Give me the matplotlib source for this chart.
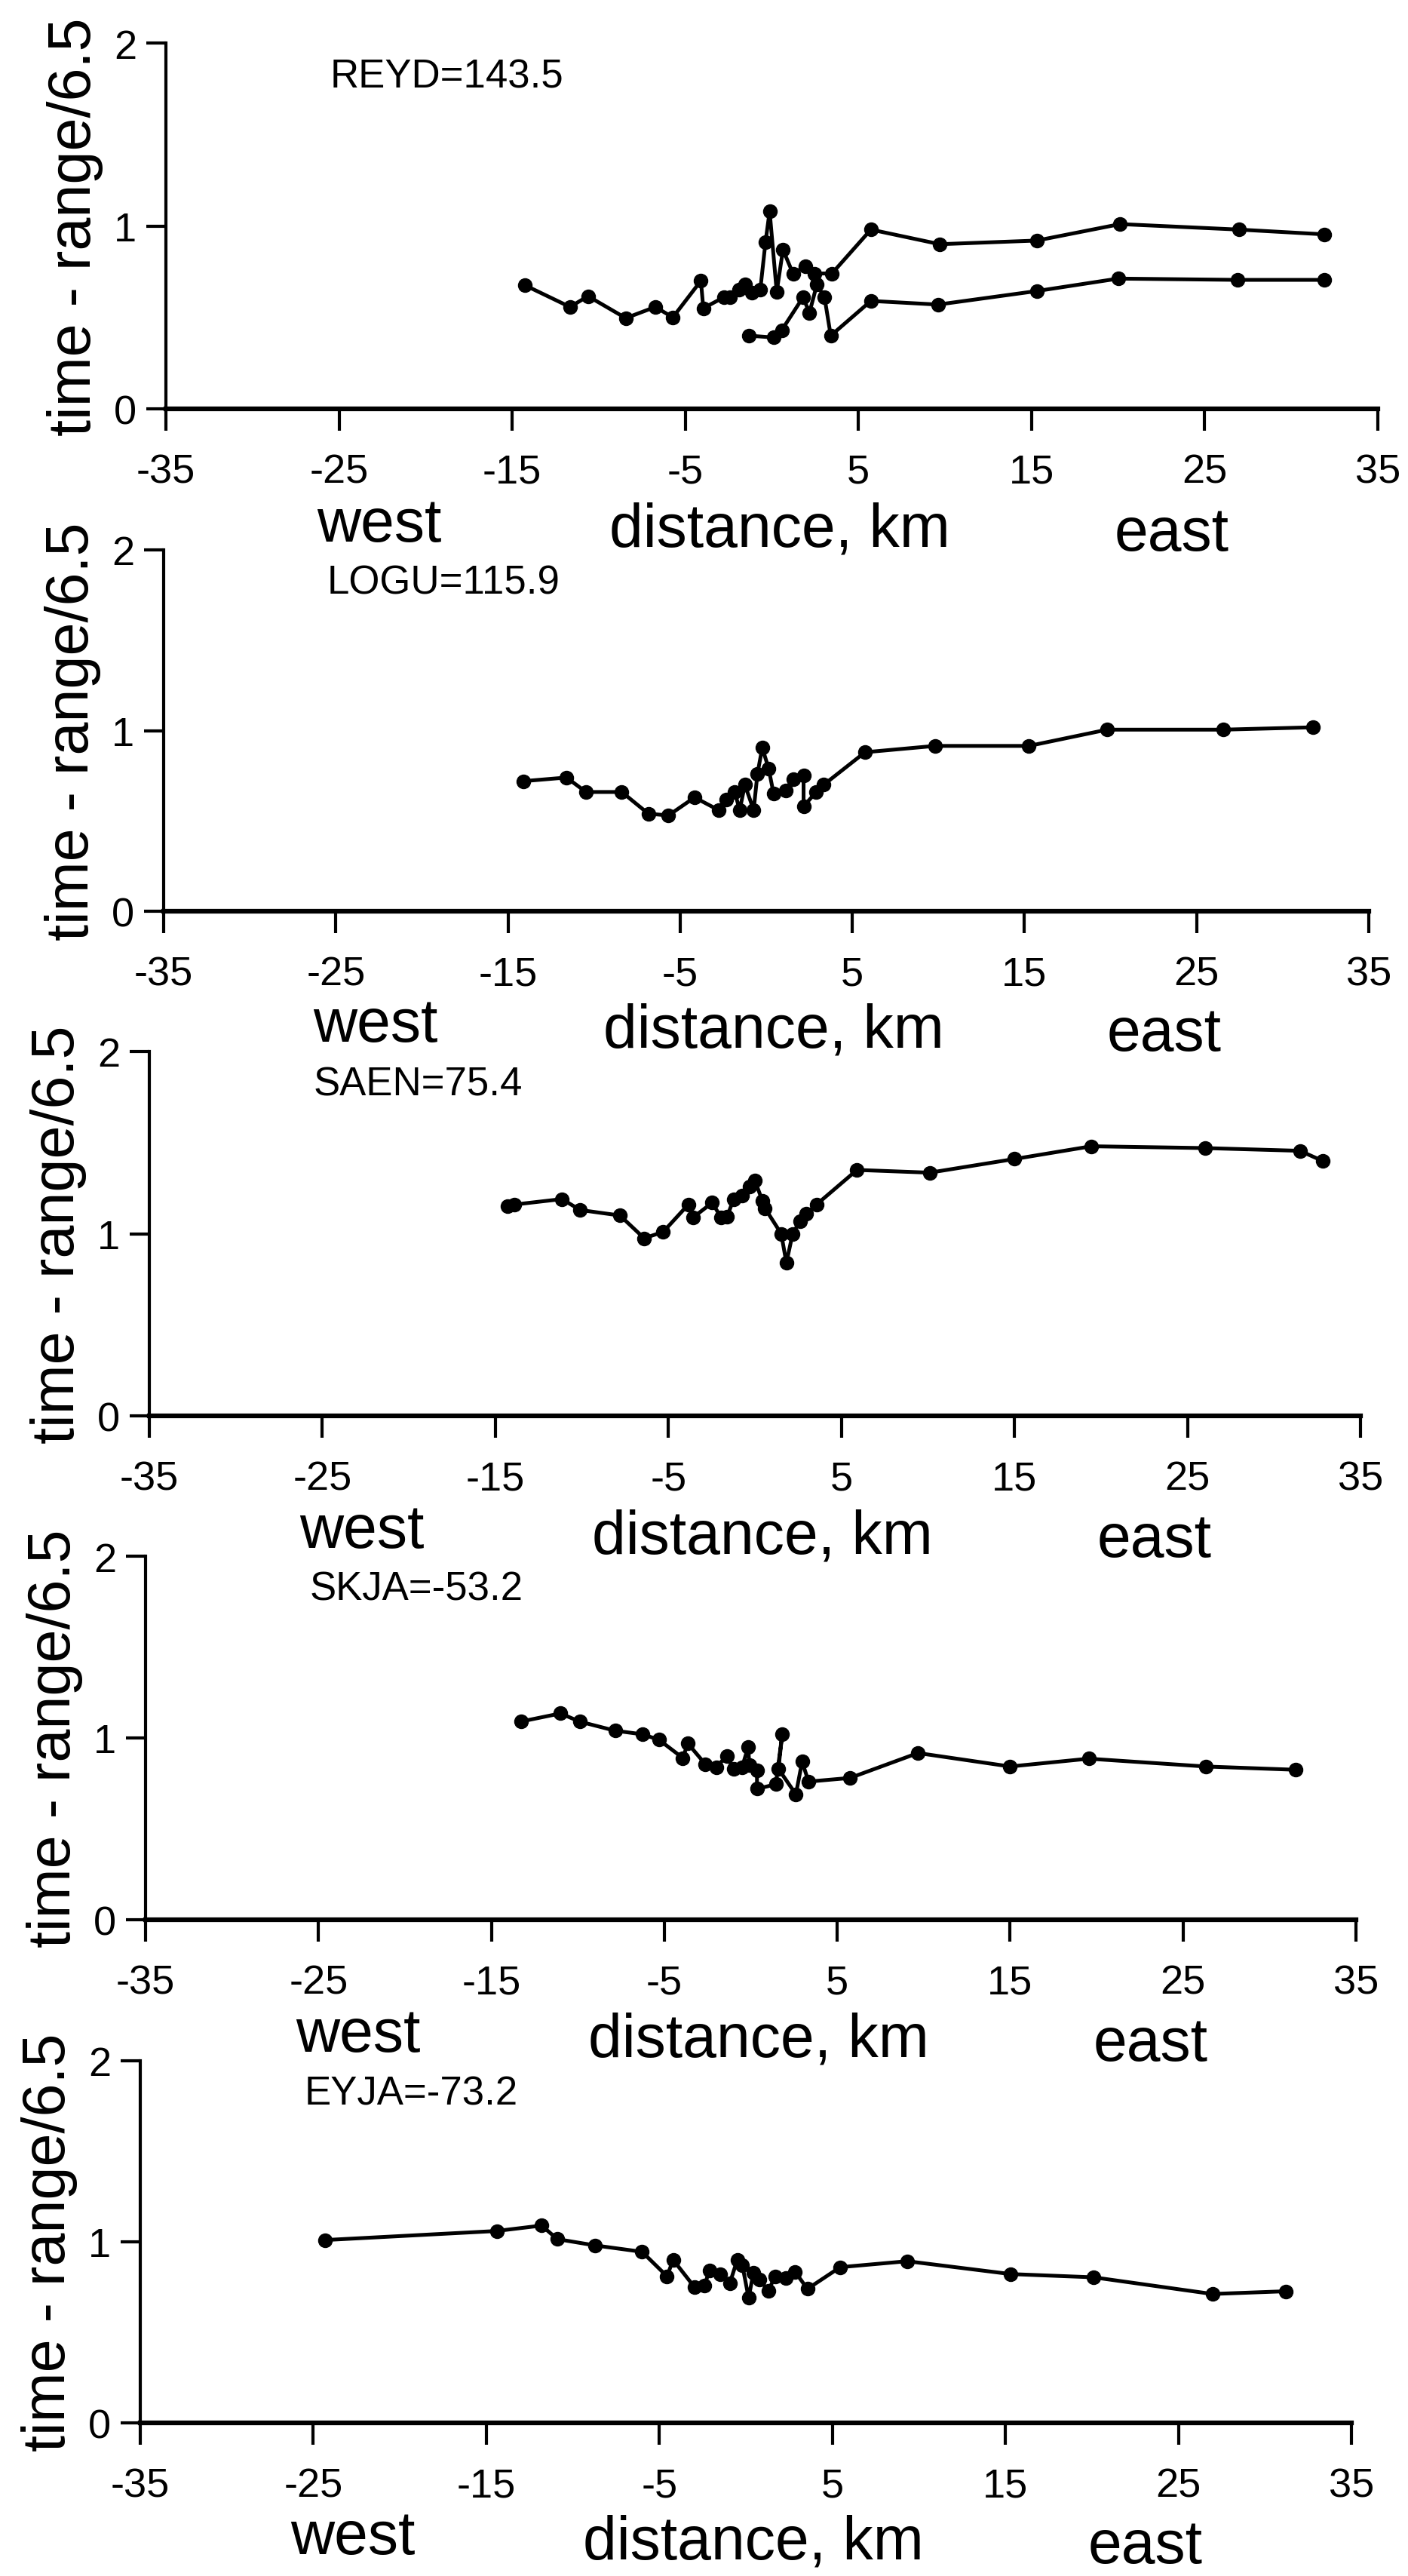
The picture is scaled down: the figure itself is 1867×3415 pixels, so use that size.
import matplotlib.pyplot as plt

plt.rcParams['font.family'] = ['Liberation Sans', 'DejaVu Sans']
plt.rcParams['axes.unicode_minus'] = False

# station labels (one panel each)
stations = ['REYD=143.5', 'LOGU=115.9', 'SAEN=75.4', 'SKJA=-53.2', 'EYJA=-73.2']

# REYD - two branches
reyd_x1 = [-14.25, -11.66, -10.62, -8.44, -6.73, -5.72, -4.1, -3.96, -2.77, -2.41, -1.9, -1.54,
           -1.17, -0.67, -0.37, -0.13, 0.28, 0.64, 1.22, 1.95, 2.46, 3.47, 5.72, 9.7, 15.3,
           20.12, 26.97, 31.9]
reyd_y1 = [0.675, 0.557, 0.616, 0.496, 0.557, 0.50, 0.70, 0.55, 0.61, 0.61, 0.65, 0.68,
           0.635, 0.65, 0.91, 1.08, 0.64, 0.87, 0.74, 0.78, 0.74, 0.74, 0.98, 0.90, 0.92,
           1.01, 0.98, 0.954]
reyd_x2 = [-1.32, 0.13, 0.57, 1.8, 2.17, 2.6, 3.04, 3.4, 5.72, 9.6, 15.3, 20.0, 26.9, 31.9]
reyd_y2 = [0.40, 0.39, 0.43, 0.61, 0.525, 0.68, 0.61, 0.40, 0.59, 0.57, 0.644, 0.712, 0.705, 0.705]

# LOGU
logu_x = [-14.1, -11.6, -10.47, -8.39, -6.85, -5.68, -4.16, -2.77, -2.34, -1.83, -1.54, -1.24,
          -0.73, -0.51, -0.23, 0.14, 0.43, 1.16, 1.59, 2.17, 2.17, 2.9, 3.34, 5.74, 9.8, 15.26,
          19.8, 26.55, 31.75]
logu_y = [0.72, 0.74, 0.66, 0.66, 0.54, 0.53, 0.63, 0.56, 0.62, 0.66, 0.56, 0.70,
          0.56, 0.76, 0.905, 0.79, 0.65, 0.67, 0.73, 0.75, 0.58, 0.66, 0.70, 0.88, 0.915, 0.915,
          1.005, 1.005, 1.018]

# SAEN
saen_x = [-14.3, -13.9, -11.15, -10.1, -7.8, -6.4, -5.3, -3.85, -3.56, -2.47, -1.96, -1.6,
          -1.23, -0.73, -0.29, 0.0, 0.44, 0.58, 1.52, 1.82, 2.18, 2.61, 2.97, 3.56, 5.9, 10.1,
          15.0, 19.45, 26.0, 31.5, 32.8]
saen_y = [1.15, 1.16, 1.19, 1.13, 1.10, 0.975, 1.01, 1.16, 1.09, 1.17, 1.09, 1.095,
          1.19, 1.21, 1.26, 1.29, 1.18, 1.14, 1.0, 0.84, 1.0, 1.07, 1.11, 1.16, 1.35, 1.335,
          1.41, 1.48, 1.47, 1.455, 1.40]

# SKJA
skja_x = [-13.3, -11.0, -9.9, -7.85, -6.26, -5.31, -3.93, -3.64, -2.62, -2.0, -1.39, -1.0,
          -0.5, -0.15, -0.08, 0.36, 0.36, 1.45, 1.82, 1.6, 2.61, 2.97, 3.34, 5.74, 9.67, 15.0,
          19.54, 26.3, 31.5]
skja_y = [1.09, 1.135, 1.09, 1.04, 1.02, 0.99, 0.89, 0.97, 0.855, 0.84, 0.90, 0.83,
          0.84, 0.95, 0.85, 0.82, 0.72, 0.745, 1.02, 0.83, 0.69, 0.87, 0.76, 0.78, 0.917, 0.843,
          0.886, 0.843, 0.825]

# EYJA
eyja_x = [-24.3, -14.4, -11.8, -10.9, -8.7, -6.0, -4.56, -4.2, -2.97, -2.4, -2.1, -1.5,
          -0.93, -0.5, -0.2, 0.16, 0.44, 0.8, 1.31, 1.68, 2.3, 2.84, 3.56, 5.45, 9.33, 15.3,
          20.1, 26.96, 31.2]
eyja_y = [1.01, 1.06, 1.09, 1.015, 0.98, 0.945, 0.81, 0.90, 0.75, 0.76, 0.84, 0.82,
          0.77, 0.90, 0.87, 0.69, 0.83, 0.79, 0.73, 0.81, 0.80, 0.835, 0.74, 0.86, 0.893, 0.822,
          0.804, 0.712, 0.727]

series = [
    [(reyd_x1, reyd_y1), (reyd_x2, reyd_y2)],
    [(logu_x, logu_y)],
    [(saen_x, saen_y)],
    [(skja_x, skja_y)],
    [(eyja_x, eyja_y)],
]

xticks = [-35, -25, -15, -5, 5, 15, 25, 35]
yticks = [0, 1, 2]

W, H = 1867, 3416
# axes boxes in pixels: left, right, top, bottom
boxes = [(220, 1827, 58, 543), (217, 1815, 730, 1209), (198, 1804, 1395, 1878),
         (193, 1798, 2064, 2546), (186, 1792, 2733, 3213)]

fig = plt.figure(figsize=(W / 100, H / 100), dpi=100)
fig.patch.set_facecolor('white')

for i, (L, R, T, B) in enumerate(boxes):
    ax = fig.add_axes([L / W, 1 - B / H, (R - L) / W, (B - T) / H])
    ax.patch.set_visible(False)
    for xs, ys in series[i]:
        ax.plot(xs, ys, color='black', lw=3.6, marker='o', ms=13, clip_on=False)

    ax.set_xlim(-35, 35)
    ax.set_ylim(0, 2)
    ax.set_xticks(xticks)
    ax.set_yticks(yticks)
    ax.spines['top'].set_visible(False)
    ax.spines['right'].set_visible(False)
    ax.spines['left'].set_linewidth(3)
    ax.spines['bottom'].set_linewidth(4.5)
    ax.tick_params(axis='x', direction='out', length=21, width=3, pad=21, labelsize=39)
    ax.tick_params(axis='y', direction='out', length=19, width=3, pad=9, labelsize=39)

    ax.set_ylabel('time - range/6.5', fontsize=57)
    ax.yaxis.set_label_coords(-83 / (R - L), 0.5)

    ax.text(-25.5, 1.76, stations[i], fontsize=38, ha='left', va='baseline')

    ax.text(-22.7, -0.72, 'west', fontsize=58, ha='center', va='baseline', clip_on=False)
    ax.text(0.45, -0.75, 'distance, km', fontsize=58, ha='center', va='baseline', clip_on=False)
    ax.text(23.1, -0.77, 'east', fontsize=58, ha='center', va='baseline', clip_on=False)

plt.savefig('out.png', dpi=100)
